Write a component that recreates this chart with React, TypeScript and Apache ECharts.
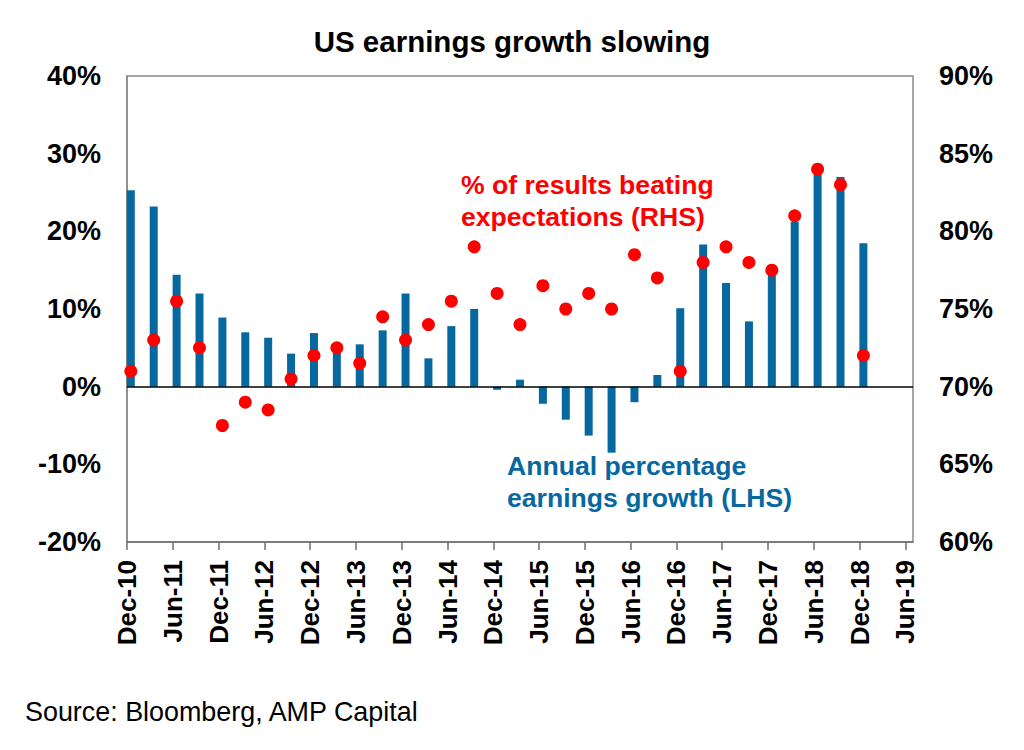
import React, { useEffect, useRef } from "react";
import * as echarts from "echarts";

const quarters = [
  "Dec-10", "Mar-11", "Jun-11", "Sep-11", "Dec-11", "Mar-12", "Jun-12", "Sep-12",
  "Dec-12", "Mar-13", "Jun-13", "Sep-13", "Dec-13", "Mar-14", "Jun-14", "Sep-14",
  "Dec-14", "Mar-15", "Jun-15", "Sep-15", "Dec-15", "Mar-16", "Jun-16", "Sep-16",
  "Dec-16", "Mar-17", "Jun-17", "Sep-17", "Dec-17", "Mar-18", "Jun-18", "Sep-18",
  "Dec-18",
];

const earningsGrowth = [
  25.3, 23.2, 14.4, 12.0, 8.9, 7.0, 6.3, 4.25,
  6.9, 5.2, 5.45, 7.25, 12.0, 3.65, 7.8, 10.0,
  -0.4, 0.9, -2.2, -4.25, -6.3, -8.5, -2.0, 1.5,
  10.1, 18.3, 13.35, 8.4, 14.9, 21.2, 27.6, 27.0,
  18.45,
];

const beatingPct = [
  71.0, 73.0, 75.5, 72.5, 67.5, 69.0, 68.5, 70.5,
  72.0, 72.5, 71.5, 74.5, 73.0, 74.0, 75.5, 79.0,
  76.0, 74.0, 76.5, 75.0, 76.0, 75.0, 78.5, 77.0,
  71.0, 78.0, 79.0, 78.0, 77.5, 81.0, 84.0, 83.0,
  72.0,
];

const xTickLabels = [
  "Dec-10", "Jun-11", "Dec-11", "Jun-12", "Dec-12", "Jun-13", "Dec-13", "Jun-14",
  "Dec-14", "Jun-15", "Dec-15", "Jun-16", "Dec-16", "Jun-17", "Dec-17", "Jun-18",
  "Dec-18", "Jun-19",
];

const MONTHS_PER_QUARTER = 3;
const MONTHS_PER_TICK = 6;
const xPos = (i: number) => i * MONTHS_PER_QUARTER + 0.5;
const tickValues = xTickLabels.map((_, i) => i * MONTHS_PER_TICK);

const FONT = "'Liberation Sans', Arial, sans-serif";
const BLUE = "#0768A0";
const RED = "#FF0000";

export default function App() {
  const ref = useRef<HTMLDivElement>(null);

  useEffect(() => {
    if (!ref.current) return;
    const chart = echarts.init(ref.current, undefined, { renderer: "svg" });
    const barData = earningsGrowth.map((v, i) => [xPos(i), v]);
    const dotData = beatingPct.map((v, i) => [xPos(i), v]);

    chart.setOption({
      animation: false,
      backgroundColor: "#ffffff",
      title: {
        text: "US earnings growth slowing",
        left: "center",
        top: 26,
        padding: 0,
        textStyle: { fontFamily: FONT, fontSize: 29.5, fontWeight: "bold", color: "#000" },
      },
      grid: {
        left: 127,
        right: 111,
        top: 76,
        bottom: 208,
        show: true,
        borderColor: "#8a8a8a",
        borderWidth: 1.5,
        containLabel: false,
      },
      xAxis: {
        type: "value",
        min: 0,
        max: 103,
        interval: MONTHS_PER_TICK,
        splitLine: { show: false },
        axisLine: { show: true, onZero: false, lineStyle: { color: "#6e6e6e", width: 1.5 } },
        axisTick: {
          show: true,
          length: 8,
          customValues: tickValues,
          lineStyle: { color: "#6e6e6e", width: 1.5 },
        },
        axisLabel: {
          customValues: tickValues,
          rotate: 90,
          margin: 18,
          fontFamily: FONT,
          fontSize: 26,
          fontWeight: "bold",
          color: "#000",
          formatter: (v: number) => xTickLabels[Math.round(v / MONTHS_PER_TICK)] ?? "",
        },
      },
      yAxis: [
        {
          type: "value",
          min: -20,
          max: 40,
          interval: 10,
          splitLine: { show: false },
          axisLine: { show: true, lineStyle: { color: "#8a8a8a", width: 1.5 } },
          axisTick: { show: false },
          axisLabel: {
            margin: 26,
            fontFamily: FONT,
            fontSize: 27,
            fontWeight: "bold",
            color: "#000",
            formatter: "{value}%",
          },
        },
        {
          type: "value",
          min: 60,
          max: 90,
          interval: 5,
          splitLine: { show: false },
          axisLine: { show: false },
          axisTick: { show: false },
          axisLabel: {
            margin: 26,
            fontFamily: FONT,
            fontSize: 27,
            fontWeight: "bold",
            color: "#000",
            formatter: "{value}%",
          },
        },
      ],
      series: [
        {
          name: "Annual percentage earnings growth (LHS)",
          type: "bar",
          yAxisIndex: 0,
          barWidth: 8,
          itemStyle: { color: BLUE },
          data: barData,
          markLine: {
            silent: true,
            symbol: "none",
            label: { show: false },
            lineStyle: { color: "#000", width: 1.5, type: "solid" },
            data: [{ yAxis: 0 }],
          },
        },
        {
          name: "% of results beating expectations (RHS)",
          type: "scatter",
          yAxisIndex: 1,
          symbol: "circle",
          symbolSize: 13,
          itemStyle: { color: RED, opacity: 1 },
          data: dotData,
          z: 5,
        },
      ],
      graphic: [
        {
          type: "text",
          left: 461,
          top: 169,
          style: {
            text: "% of results beating\nexpectations (RHS)",
            fontFamily: FONT,
            fontSize: 26.6,
            fontWeight: "bold",
            lineHeight: 32,
            fill: RED,
          },
        },
        {
          type: "text",
          left: 507,
          top: 450,
          style: {
            text: "Annual percentage\nearnings growth (LHS)",
            fontFamily: FONT,
            fontSize: 26.6,
            fontWeight: "bold",
            lineHeight: 32,
            fill: BLUE,
          },
        },
        {
          type: "text",
          left: 25,
          top: 698,
          style: {
            text: "Source: Bloomberg, AMP Capital",
            fontFamily: FONT,
            fontSize: 26.9,
            fill: "#000",
          },
        },
      ],
    });
    return () => chart.dispose();
  }, []);

  return (
    <div
      ref={ref}
      style={{ position: "fixed", left: 0, top: 0, width: 1024, height: 750, background: "#fff" }}
    />
  );
}
